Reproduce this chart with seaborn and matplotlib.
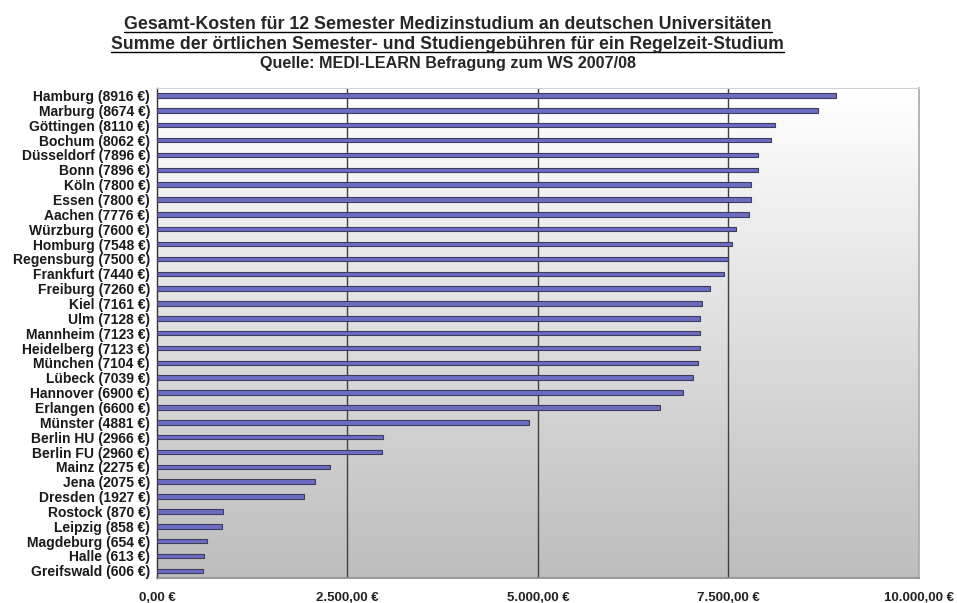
import numpy as np
import matplotlib
matplotlib.use("Agg")
import matplotlib.pyplot as plt
import seaborn as sns
from matplotlib.lines import Line2D

# data
cities = ["Hamburg", "Marburg", "Göttingen", "Bochum", "Düsseldorf", "Bonn", "Köln",
          "Essen", "Aachen", "Würzburg", "Homburg", "Regensburg", "Frankfurt",
          "Freiburg", "Kiel", "Ulm", "Mannheim", "Heidelberg", "München", "Lübeck",
          "Hannover", "Erlangen", "Münster", "Berlin HU", "Berlin FU", "Mainz",
          "Jena", "Dresden", "Rostock", "Leipzig", "Magdeburg", "Halle", "Greifswald"]
costs = [8916, 8674, 8110, 8062, 7896, 7896, 7800, 7800, 7776, 7600, 7548, 7500,
         7440, 7260, 7161, 7128, 7123, 7123, 7104, 7039, 6900, 6600, 4881, 2966,
         2960, 2275, 2075, 1927, 870, 858, 654, 613, 606]
x_ticks = [0, 2500, 5000, 7500, 10000]
x_tick_labels = ["0,00 €", "2.500,00 €", "5.000,00 €", "7.500,00 €", "10.000,00 €"]
title_lines = ["Gesamt-Kosten für 12 Semester Medizinstudium an deutschen Universitäten",
               "Summe der örtlichen Semester- und Studiengebühren für ein Regelzeit-Studium",
               "Quelle: MEDI-LEARN Befragung zum WS 2007/08"]

labels = [f"{c} ({v} €)" for c, v in zip(cities, costs)]

sns.set_style("white")
plt.rcParams['font.family'] = ['Liberation Sans', 'DejaVu Sans']

fig = plt.figure(figsize=(9.57, 6.03), dpi=100)
ax = fig.add_axes([0.164, 0.041, 0.796, 0.813])

# grey gradient background
grad = np.linspace(0, 1, 256).reshape(-1, 1)
ax.imshow(grad, extent=[0, 10000, 32.45, -0.35], aspect='auto',
          cmap=matplotlib.colors.LinearSegmentedColormap.from_list("bg", ["#ffffff", "#bdbdbd"]),
          zorder=0)

sns.barplot(x=costs, y=labels, orient='h', color="#6c6cc4", saturation=1,
            width=0.3, edgecolor="#3c3c5c", linewidth=0.8, ax=ax, zorder=3)

ax.set_xlim(0, 10000)
ax.set_ylim(32.45, -0.35)
for xv in x_ticks[1:-1]:
    ax.axvline(xv, color="#404040", lw=1, zorder=2)

ax.set_xticks(x_ticks)
ax.set_xticklabels(x_tick_labels, fontsize=9.5, fontweight='bold', color="#222222")
ax.tick_params(axis='x', length=3, color="#999999", pad=7)
ax.tick_params(axis='y', length=0, pad=5, labelsize=10)
for t in ax.get_yticklabels():
    t.set_fontweight('bold')
    t.set_color("#1a1a1a")
ax.set_yticks(np.arange(-0.5, 33, 1), minor=True)
ax.tick_params(axis='y', which='minor', length=3, color="#333333", direction='out')
ax.set_xlabel("")
ax.set_ylabel("")

ax.spines["top"].set_color("#d0d0d0")
ax.spines["right"].set_color("#a8a8a8")
ax.spines["bottom"].set_color("#8c8c8c")
ax.spines["right"].set_linewidth(1.2)
ax.spines["bottom"].set_linewidth(1.2)
ax.spines["left"].set_color("#333333")
ax.spines["left"].set_linewidth(1)

# title lines, first two underlined
ys = [0.960, 0.927, 0.894]
sizes = [12.8, 12.7, 11.6]
texts = []
for line, y, fs in zip(title_lines, ys, sizes):
    texts.append(fig.text(0.468, y, line, ha='center', va='center',
                          fontsize=fs, fontweight='bold'))

fig.canvas.draw()
r = fig.canvas.get_renderer()
W, H = fig.bbox.width, fig.bbox.height
for t in texts[:2]:
    bb = t.get_window_extent(r)
    yl = (bb.y0 + 1) / H
    fig.add_artist(Line2D([bb.x0 / W, bb.x1 / W], [yl, yl], color='black', lw=1,
                          transform=fig.transFigure))

fig.savefig("out.png", dpi=100)
